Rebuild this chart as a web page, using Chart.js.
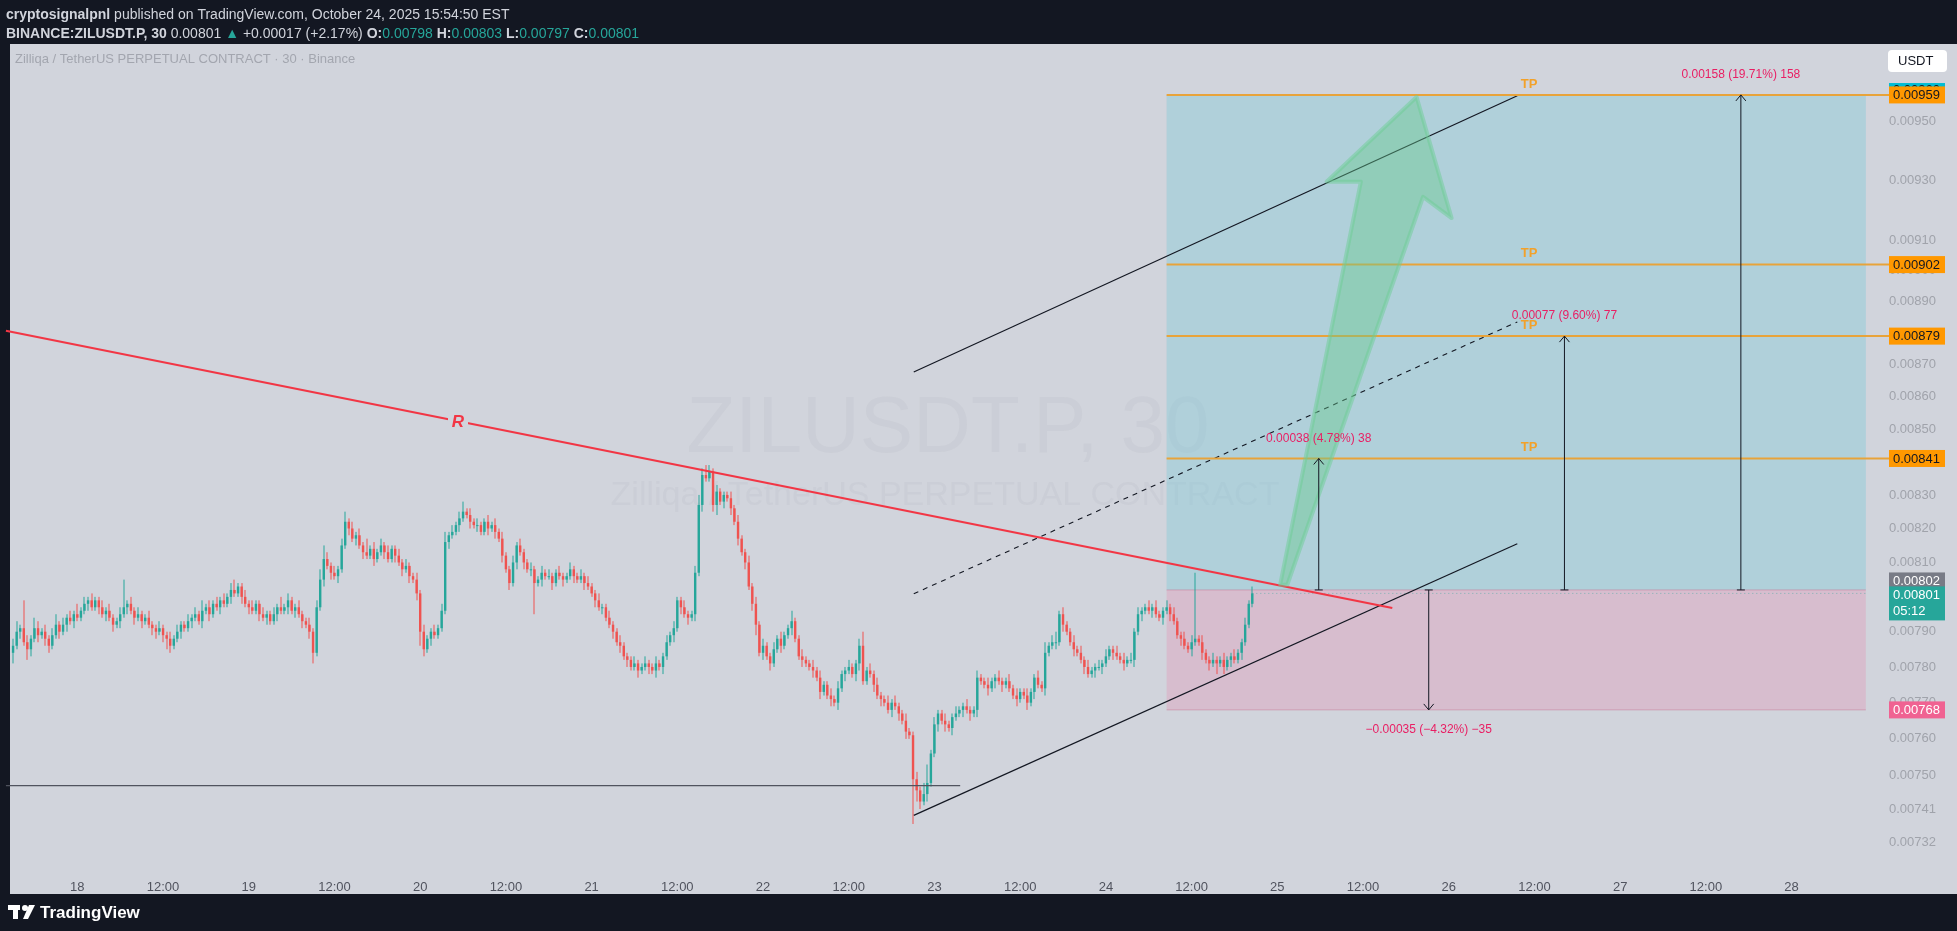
<!DOCTYPE html>
<html><head><meta charset="utf-8">
<script src="https://cdn.jsdelivr.net/npm/chart.js@4/dist/chart.umd.min.js"></script>
<style>html,body{margin:0;padding:0;background:#131722;overflow:hidden}#wrap{position:absolute;left:0;top:0;width:1957px;height:931px}</style>
</head><body><div id="wrap"><canvas id="c" width="1957" height="931"></canvas></div>
<script>
// ---- DATA (prices in 1e-5 USDT, time in hours since Oct 17 00:00) ----
const firstBarHour = 15, barHours = 0.5, firstOpen = 784;
const closes = [
786,790,791,787,785,788,791,789,790,788, 786,789,792,790,792,794,793,795,794,796,
798,799,797,799,797,795,796,794,792,793, 795,797,798,796,794,795,793,794,792,791,
790,791,789,788,786,788,790,792,791,793, 794,795,793,796,797,795,798,797,799,798,
800,802,801,803,800,798,797,796,798,795, 794,795,793,795,797,796,797,799,796,797,
795,793,792,790,784,797,805,811,809,807, 806,808,815,822,820,817,818,815,813,812,
814,811,813,815,813,811,814,812,810,808, 809,806,805,801,790,785,788,790,789,791,
796,816,818,819,821,823,825,824,822,821, 821,819,822,820,821,819,817,812,808,804,
810,815,813,810,808,808,804,805,807,806, 806,804,807,806,805,806,808,806,805,806,
804,803,801,799,797,797,794,792,790,787, 786,783,782,780,781,779,780,781,780,779,
781,780,783,787,789,791,799,797,795,794, 795,807,827,836,835,837,827,831,828,830,
829,826,822,817,813,810,803,798,792,784, 786,783,781,785,788,786,789,791,793,788,
783,782,781,780,779,777,773,775,772,771, 770,774,778,779,780,778,781,786,776,779,
778,775,772,771,770,768,770,769,767,765, 762,761,749,746,743,745,748,756,764,767,
765,764,763,766,767,768,769,768,767,768, 777,776,775,774,776,777,776,775,776,774,
772,771,773,772,770,773,777,775,774,784, 786,787,787,795,792,790,787,785,784,782,
780,778,779,780,780,781,783,785,784,783, 782,781,782,782,790,795,796,797,796,797,
795,794,796,797,795,793,789,788,786,785, 787,788,787,784,782,781,782,781,782,780,
782,783,782,784,787,792,798,801];
const wickUp = [
2,3,1,8,2,1,3,2,1,2, 1,2,3,1,2,1,2,1,3,1, 2,1,2,1,1,2,1,2,1,1, 2,8,1,2,1,2,1,1,2,1,
1,2,1,1,2,1,2,1,1,2, 1,2,1,3,1,2,1,2,1,2, 1,2,3,1,1,2,1,2,1,1, 2,1,1,2,1,3,1,2,1,1,
2,1,1,2,1,2,3,4,2,1, 2,1,2,3,1,2,1,2,1,4, 1,2,1,2,1,2,1,1,2,1, 2,1,1,2,1,2,1,1,2,1,
2,3,1,2,1,2,3,1,2,1, 2,1,1,2,1,2,1,2,1,1, 2,1,2,1,1,2,1,1,2,1, 2,1,1,2,1,1,2,1,1,2,
1,2,1,1,2,1,1,2,1,1, 2,1,1,1,2,1,1,2,1,1, 2,1,1,2,1,2,1,1,2,1, 1,2,3,2,3,2,1,2,1,1,
1,2,1,2,1,1,2,1,2,1, 2,1,1,2,1,2,1,1,3,1, 1,2,1,1,2,1,2,1,1,2, 1,2,1,1,2,1,1,2,4,1,
2,1,2,1,1,2,1,2,1,1, 2,1,1,2,1,3,5,1,2,1, 1,2,1,1,2,1,1,2,1,1, 2,1,1,2,1,1,2,1,1,2,
1,2,1,1,2,1,1,2,1,3, 1,2,3,1,2,1,1,2,1,2, 1,2,1,1,2,1,2,1,1,2, 1,2,1,2,1,2,1,1,2,1,
2,1,1,2,1,2,1,1,2,1, 2,19,1,2,1,1,2,1,1,2, 1,1,2,1,1,2,1,2];
const wickDn = [
3,1,2,1,3,2,1,2,1,2, 2,1,1,2,1,2,1,2,1,1, 1,2,1,1,2,1,2,1,2,1, 2,1,2,1,2,1,2,1,1,2,
2,1,2,3,2,1,1,2,1,1, 2,1,1,2,1,2,1,1,2,1, 1,2,1,1,2,1,2,1,1,2, 1,2,1,1,2,1,1,2,1,2,
1,2,1,2,3,1,1,2,1,2, 1,2,1,1,2,1,2,1,2,1, 1,2,1,1,2,1,1,2,1,2, 1,2,1,2,4,2,1,2,1,1,
1,1,2,1,1,2,1,1,2,1, 2,1,1,2,1,2,1,2,1,2, 1,2,1,2,1,2,9,1,2,1, 1,2,1,1,2,1,1,2,1,1,
2,1,1,2,1,2,1,1,2,1, 2,1,2,1,1,2,1,1,2,1, 2,1,2,1,1,2,1,2,1,2, 1,2,1,2,1,1,2,3,1,2,
1,2,1,2,1,2,1,2,3,1, 2,1,2,1,1,2,1,1,2,1, 1,2,1,1,2,1,2,1,1,2, 1,2,1,2,1,1,2,2,1,1,
1,2,1,2,1,1,2,1,2,1, 2,1,12,3,2,1,2,1,1,2, 1,2,1,2,1,1,2,1,2,1, 2,1,1,2,1,2,1,2,1,1,
1,2,1,1,2,1,2,1,1,2, 1,1,2,1,2,1,1,2,1,1, 2,1,1,2,1,2,1,1,2,1, 1,2,1,1,2,1,2,1,1,2,
1,1,2,1,2,1,1,2,1,1, 2,1,1,2,1,2,1,3,1,2, 1,2,1,1,2,1,1,1];
const dayTickHours = [24,36,48,60,72,84,96,108,120,132,144,156,168,180,192,204,216,228,240,252,264];
const priceTicks = [732,741,750,760,770,780,790,800,810,820,830,840,850,860,870,880,890,900,910,930,950,960];
const xRange = [14.57, 274.7], yRange = [725.9, 976.8];
// drawings: [hour, price]
const resistance = [[14.0,880.7],[208.1,796.8]];
const supportFlat = [[14.0,747.3],[147.6,747.3]];
const chLower = [[141.1,739.3],[225.6,815.5]];
const chUpper = [[141.1,867.7],[225.6,958.7]];
const chMid = [[141.1,800.9],[225.6,883.5]];
const posBox = {h0:176.5, h1:274.4, entry:802, stop:768, target:959};
const tpLevels = [959,902,879,841];
const measures = [[197.8,802,841,"0.00038 (4.78%) 38"],[232.2,802,879,"0.00077 (9.60%) 77"],[256.9,802,959,"0.00158 (19.71%) 158"],[213.2,802,768,"\u22120.00035 (\u22124.32%) \u221235"]];
const bigArrow = [[192.4,803.5],[203.7,929.4],[198.9,929.4],[211.5,958.3],[216.4,917.3],[212.4,924.3],[193.4,803.5]];

const bars = closes.map((c,i)=>{const o=i?closes[i-1]:firstOpen;return {h:firstBarHour+i*barHours,o,c,hi:Math.max(o,c)+wickUp[i],lo:Math.min(o,c)-wickDn[i]};});

const F='"Liberation Sans", Arial, sans-serif';
const plug={id:'tv',
beforeDraw(ch){const g=ch.ctx;g.save();g.fillStyle='#131722';g.fillRect(0,0,1957,931);
 g.fillStyle='#d1d4dc';g.fillRect(10,44,1947,850);
 g.textBaseline='middle';g.font='bold 14px '+F;g.fillStyle='#d1d4dc';let x=6;
 g.fillText('cryptosignalpnl',x,15);x+=g.measureText('cryptosignalpnl').width;
 g.font='14px '+F;g.fillText(' published on TradingView.com, October 24, 2025 15:54:50 EST',x,15);
 x=6;const segs=[['bold','#d1d4dc','BINANCE:ZILUSDT.P, 30 '],['','#d1d4dc','0.00801 '],['','#26a69a','\u25B2 '],['','#d1d4dc','+0.00017 (+2.17%) '],['bold','#d1d4dc','O:'],['','#26a69a','0.00798 '],['bold','#d1d4dc','H:'],['','#26a69a','0.00803 '],['bold','#d1d4dc','L:'],['','#26a69a','0.00797 '],['bold','#d1d4dc','C:'],['','#26a69a','0.00801']];
 for(const s of segs){g.font=(s[0]?'bold ':'')+'14px '+F;g.fillStyle=s[1];g.fillText(s[2],x,34);x+=g.measureText(s[2]).width;}
 g.fillStyle='#131722';g.fillRect(0,894,1957,37);
 g.fillStyle='#ffffff';g.fillRect(8,905,12,5);g.fillRect(13,905,5,14);
 g.beginPath();g.arc(25,908,3,0,7);g.fill();g.beginPath();g.moveTo(29,905);g.lineTo(35,905);g.lineTo(28,919);g.lineTo(23,919);g.fill();
 g.font='bold 17px '+F;g.fillText('TradingView',40,913);
 g.restore();},
beforeDatasetsDraw(ch){const g=ch.ctx,sx=ch.scales.x,sy=ch.scales.y;const X=h=>sx.getPixelForValue(h),Y=p=>sy.getPixelForValue(p/1e5);
 g.save();
 g.textAlign='left';g.textBaseline='middle';g.fillStyle='#a3a6af';g.font='13px '+F;
 g.fillText('Zilliqa / TetherUS PERPETUAL CONTRACT \u00B7 30 \u00B7 Binance',15,59);
 g.textAlign='center';g.fillStyle='rgba(120,123,134,0.06)';g.font='80px '+F;g.fillText('ZILUSDT.P, 30',948,430);
 g.font='34px '+F;g.fillText('Zilliqa / TetherUS PERPETUAL CONTRACT',945,496);
 const x0=X(posBox.h0),x1=X(posBox.h1);
 g.fillStyle='rgba(110,200,215,0.33)';g.fillRect(x0,Y(posBox.target),x1-x0,Y(posBox.entry)-Y(posBox.target));
 g.fillStyle='rgba(242,100,150,0.2)';g.fillRect(x0,Y(posBox.entry),x1-x0,Y(posBox.stop)-Y(posBox.entry));
 g.strokeStyle='rgba(200,120,150,0.5)';g.lineWidth=1;g.beginPath();g.moveTo(x0,Y(posBox.entry));g.lineTo(x1,Y(posBox.entry));g.moveTo(x0,Y(posBox.stop));g.lineTo(x1,Y(posBox.stop));g.stroke();
 const w=2.4;
 for(const b of bars){const cx=X(b.h);const up=b.c>=b.o;g.fillStyle=up?'#26a69a':'#ef5350';
  g.fillRect(Math.round(cx)-0.5,Y(b.hi),1,Y(b.lo)-Y(b.hi));
  const yt=Y(Math.max(b.o,b.c)),yb=Y(Math.min(b.o,b.c));g.fillRect(cx-w/2,yt,w,Math.max(1,yb-yt));}
 g.restore();},
afterDatasetsDraw(ch){const g=ch.ctx,sx=ch.scales.x,sy=ch.scales.y;const X=h=>sx.getPixelForValue(h),Y=p=>sy.getPixelForValue(p/1e5);
 g.save();
 const line=(pts,col,wd,dash)=>{g.strokeStyle=col;g.lineWidth=wd;g.setLineDash(dash||[]);g.beginPath();g.moveTo(X(pts[0][0]),Y(pts[0][1]));g.lineTo(X(pts[1][0]),Y(pts[1][1]));g.stroke();g.setLineDash([]);};
 line([[bars[bars.length-1].h,801],[xRange[1],801]],'rgba(38,166,154,0.5)',1,[1,3]);
 line(supportFlat,'#50535e',1.3);line(chLower,'#131722',1.2);line(chUpper,'#131722',1.2);line(chMid,'#131722',1.1,[5,5]);
 line(resistance,'#f23645',2.2);
 const rx=458,rt=(rx-X(resistance[0][0]))/(X(resistance[1][0])-X(resistance[0][0]));const ry=Y(resistance[0][1])+rt*(Y(resistance[1][1])-Y(resistance[0][1]));
 g.fillStyle='#d1d4dc';g.fillRect(rx-10,ry-10,20,20);g.fillStyle='#f23645';g.font='italic bold 17px '+F;g.textAlign='center';g.textBaseline='middle';g.fillText('R',rx,ry+1);
 const x0=X(posBox.h0);
 for(const p of tpLevels){g.strokeStyle='#e8a33a';g.lineWidth=2;g.beginPath();g.moveTo(x0,Y(p));g.lineTo(1890,Y(p));g.stroke();
  g.fillStyle='#f2a12a';g.font='bold 13px '+F;g.fillText('TP',1529,Y(p)-11);}
 g.beginPath();bigArrow.forEach((q,i)=>i?g.lineTo(X(q[0]),Y(q[1])):g.moveTo(X(q[0]),Y(q[1])));g.closePath();
 g.fillStyle='rgba(102,200,140,0.42)';g.fill();g.strokeStyle='rgba(110,205,150,0.5)';g.lineWidth=4;g.lineJoin='round';g.stroke();
 g.font='12px '+F;
 for(const m of measures){const x=X(m[0]),ya=Y(m[1]),yb=Y(m[2]);g.strokeStyle='#131722';g.lineWidth=1;g.beginPath();g.moveTo(x,ya);g.lineTo(x,yb);
  const d=yb<ya?1:-1;g.moveTo(x-5,yb+6*d);g.lineTo(x,yb);g.lineTo(x+5,yb+6*d);g.moveTo(x-4,ya);g.lineTo(x+4,ya);g.stroke();
  g.fillStyle='#e91e63';g.textAlign='center';g.fillText(m[3],x,d>0?yb-20:yb+20);}
 g.restore();},
afterDraw(ch){const g=ch.ctx,sy=ch.scales.y;const Y=p=>sy.getPixelForValue(p/1e5);g.save();
 g.textBaseline='middle';g.textAlign='left';g.font='13px '+F;
 const box=(y,bg,fg,t,h)=>{g.fillStyle=bg;g.fillRect(1889,y-(h||17)/2,56,h||17);g.fillStyle=fg;g.fillText(t,1893,y+0.5);};
 box(Y(960)-2,'#00bcd4','#131722','0.00960',14);
 for(const p of tpLevels)box(Y(p),'#ff9800','#131722','0.00'+p);
 box(Y(802)-9,'#787b86','#ffffff','0.00802');
 g.fillStyle='#26a69a';g.fillRect(1889,Y(801)-7,56,34);g.fillStyle='#fff';g.fillText('0.00801',1893,Y(801)+2);g.fillText('05:12',1893,Y(801)+18);
 box(Y(768),'#f06292','#ffffff','0.00768');
 g.fillStyle='#ffffff';g.beginPath();g.roundRect(1888,50,59,22,4);g.fill();g.fillStyle='#131722';g.fillText('USDT',1898,61);
 g.restore();}
};

new Chart(document.getElementById('c'),{type:'scatter',
 data:{datasets:[{data:bars.map(b=>({x:b.h,y:b.c/1e5})),pointRadius:0,showLine:false}]},
 options:{responsive:false,animation:false,events:[],
  layout:{padding:{left:10,top:44,bottom:38,right:0}},
  plugins:{legend:{display:false},tooltip:{enabled:false}},
  scales:{
   x:{type:'linear',min:xRange[0],max:xRange[1],grid:{display:false},border:{display:false},
    afterBuildTicks:s=>{s.ticks=dayTickHours.map(v=>({value:v}));},
    afterFit:s=>{s.height=27;},
    ticks:{color:'#50535e',font:{size:13,family:F},padding:6,maxRotation:0,autoSkip:false,
     callback:v=>v%24===0?String(17+v/24):'12:00'}},
   y:{type:'logarithmic',position:'right',min:yRange[0]/1e5,max:yRange[1]/1e5,grid:{display:false,drawTicks:false},border:{display:false},
    afterBuildTicks:s=>{s.ticks=priceTicks.map(v=>({value:v/1e5}));},
    afterFit:s=>{s.width=89;},
    ticks:{color:'#a0a3ab',font:{size:13,family:F},padding:21,autoSkip:false,callback:v=>v.toFixed(5)}}
  }},
 plugins:[plug]});
</script></body></html>
